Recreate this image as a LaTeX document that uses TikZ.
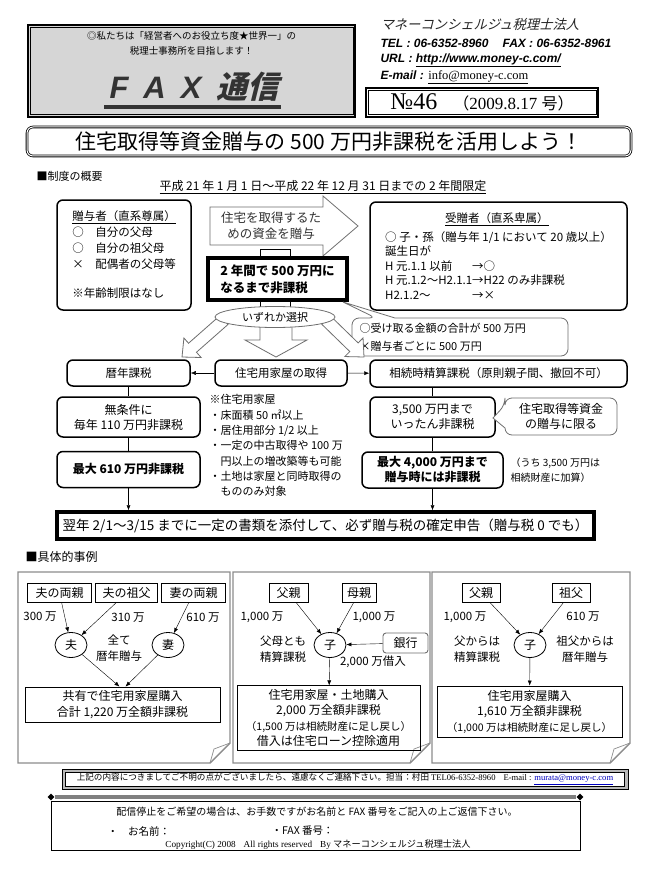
\documentclass[tikz,border=0pt]{standalone}
\usepackage{fontspec}
\setmainfont{Noto Sans CJK JP}
\newfontfamily\jp{Noto Sans CJK JP}
\newfontfamily\jpit[FakeSlant=0.25]{Noto Sans CJK JP}
\newfontfamily\lsans{Liberation Sans}
\newfontfamily\lserif{Liberation Serif}
\usetikzlibrary{arrows.meta,positioning,calc,shapes.geometric}
\definecolor{linegray}{RGB}{110,110,110}
\definecolor{panelgray}{RGB}{140,140,140}
\definecolor{hdrgray}{RGB}{214,214,214}
\definecolor{mailblue}{RGB}{0,0,190}
\newlength{\hlen}
\newcommand{\fsz}[2]{\fontsize{#1}{#2}\selectfont}
\newcommand{\blockarrow}[5]{%
  \coordinate (ba) at ($(#2)!#5!(#1)$);
  \draw[blk] ($(#1)!#3!90:(#2)$) -- ($(ba)!#3!-90:(#1)$) -- ($(ba)!#4!-90:(#1)$) -- (#2) -- ($(ba)!#4!90:(#1)$) -- ($(ba)!#3!90:(#1)$) -- ($(#1)!#3!-90:(#2)$) -- cycle;}
\newcommand{\notepanel}[4]{%
  \draw[panel] (#1,#2) -- (#3,#2) -- (#3,#4-20) -- (#3-20,#4) -- (#1,#4) -- cycle;
  \draw[panel,line width=0.7pt] (#3,#4-20) -- (#3-16,#4-14) -- (#3-20,#4);}
\newcommand{\innerframe}[1]{%
  \draw[line width=0.6pt] ([shift={(3pt,-3pt)}]#1.north west) rectangle ([shift={(-3pt,3pt)}]#1.south east);}

\begin{document}
\begin{tikzpicture}[x=1pt,y=-1pt,>={Latex[length=5pt,width=4pt]},
  every node/.style={font=\fsz{11.5}{15}},
  rbox/.style={draw,line width=1.5pt,rounded corners=6pt,align=center,inner sep=2pt},
  thickbox/.style={draw,line width=3.5pt,align=left,inner sep=2pt},
  framebox/.style={draw,line width=1.6pt,inner sep=2pt},
  namebox/.style={draw,line width=0.9pt,minimum height=19pt,inner sep=2pt,font=\fsz{12}{14}},
  resultbox/.style={draw,line width=0.9pt,align=center,font=\fsz{12}{15.5}},
  person/.style={ellipse,draw,line width=0.8pt,minimum width=32pt,minimum height=25pt,inner sep=0pt,font=\fsz{12}{14}},
  panel/.style={draw=panelgray,line width=1.4pt},
  blk/.style={draw=linegray,fill=white,line width=0.8pt},
  callout/.style={draw=linegray,fill=white,line width=0.8pt},
  amount/.style={font=\fsz{11.5}{14}},
  small/.style={font=\fsz{11.5}{15.5},align=center},
  hdrtext/.style={anchor=west,font=\lsans\bfseries\itshape\fsz{12}{14}}]
\useasboundingbox[fill=white] (0,0) rectangle (658,869);

\node[framebox,fill=hdrgray,minimum width=327pt,minimum height=92pt] (hdr) at (191.5,71) {};
\innerframe{hdr}
\node[font=\fsz{9.5}{11}] (motto) at (191.5,36) {◎私たちは「経営者へのお役立ち度★世界一」の};
\node[font=\fsz{9.5}{11}] (motto2) at (191.5,51) {税理士事務所を目指します！};
\draw[line width=3.5pt,black!80] (104,107) -- (281,107);
\node[font=\fsz{31}{33}\bfseries,text=black!80] (faxtitle) at (194,87) {{\lsans\itshape F\hspace{15pt}A\hspace{15pt}X}\hspace{15pt}{\jpit 通信}};

\node[anchor=west,font=\jpit\fsz{13.3}{15},text=black!85] (firm) at (377,24) {マネーコンシェルジュ税理士法人};
\node[hdrtext] (tel) at (377,43) {TEL : 06-6352-8960\hspace{14pt}FAX : 06-6352-8961};
\node[hdrtext] (url) at (377,60) {URL : \underline{http://www.money-c.com/}};
\node[hdrtext] (mail) at (377,77) {E-mail : {\lserif\mdseries\upshape\fsz{12.5}{14}\underline{info@money-c.com}}};
\node[framebox,fill=white,minimum width=232pt,minimum height=29pt] (issue) at (482,102.5) {{\lserif\fsz{24}{26}№46}\hspace{16pt}{\fsz{16}{20}（}{\lserif\fsz{17}{20}2009.8.17 }{\fsz{16}{20}号）}};
\innerframe{issue}

\node[draw,double,double distance=1pt,line width=0.8pt,rounded corners=6pt,minimum width=604pt,minimum height=29pt,font=\fsz{21}{24}] (title) at (329,141.5) {住宅取得等資金贈与の 500 万円非課税を活用しよう！};
\node[anchor=west,font=\fsz{11}{13}] (sec1) at (33,176) {■制度の概要};
\node[font=\fsz{12}{14}] (period) at (323,187) {\underline{平成 21 年 1 月 1 日～平成 22 年 12 月 31 日までの 2 年間限定}};

\node[rbox,align=left,minimum width=134pt,minimum height=110pt,font=\fsz{11.5}{16}] (donor) at (124,255) {\underline{贈与者（直系尊属）}\\○　自分の父母\\○　自分の祖父母\\×　配偶者の父母等\\[13pt]※年齢制限はなし};

\coordinate (giftS) at (210,226);
\coordinate (giftT) at (358,226);
\blockarrow{giftS}{giftT}{19pt}{30pt}{35pt}
\node[font=\fsz{12.5}{16},align=center,text=black!80] (giftlabel) at (271,226) {住宅を取得するた\\めの資金を贈与};
\draw[line width=0.6pt,fill=white] (260,249) rectangle (290,310);
\node[thickbox,fill=white,minimum width=139pt,minimum height=42pt,font=\fsz{12.5}{17}\bfseries] (limit) at (277.5,279) {2 年間で 500 万円に\\なるまで非課税};

\draw[callout] (376,318) -- (343,302) -- (395,318) [rounded corners=7pt] -- (568,318) -- (568,356) -- (352,356) -- (352,318) -- cycle;
\node[anchor=west,align=left,font=\fsz{11}{18}] (sumnote) at (356,337) {○受け取る金額の合計が 500 万円\\×贈与者ごとに 500 万円};

\coordinate (lS) at (224,320);
\coordinate (lT) at (182,357);
\coordinate (mS) at (276,326);
\coordinate (mT) at (276,357);
\coordinate (rS) at (326,320);
\coordinate (rT) at (364,357);
\blockarrow{lS}{lT}{6pt}{13pt}{14pt}
\blockarrow{mS}{mT}{16pt}{31pt}{17pt}
\blockarrow{rS}{rT}{6pt}{13pt}{14pt}
\node[ellipse,draw=linegray,line width=0.8pt,fill=white,minimum width=120pt,minimum height=21pt,inner sep=0pt,font=\fsz{11}{13}] (choose) at (275,317) {いずれか選択};

\node[rbox,align=left,minimum width=257pt,minimum height=108pt,font=\fsz{11.5}{14.5}] (donee) at (498.5,256) {\hspace*{60pt}\underline{受贈者（直系卑属）}\\[4pt]○ 子・孫（贈与年 1/1 において 20 歳以上）\\誕生日が\\\settowidth{\hlen}{H 元.1.2～H2.1.1}\makebox[\hlen][l]{H 元.1.1 以前}→○\\H 元.1.2～H2.1.1→H22 のみ非課税\\\settowidth{\hlen}{H 元.1.2～H2.1.1}\makebox[\hlen][l]{H2.1.2～}→×};

\node[rbox,minimum width=123pt,minimum height=26pt] (annual) at (128.5,373) {暦年課税};
\node[rbox,minimum width=132pt,minimum height=26pt] (house) at (281,373) {住宅用家屋の取得};
\node[rbox,minimum width=257pt,minimum height=27pt] (settle) at (498.5,373.5) {相続時精算課税（原則親子間、撤回不可）};
\draw[->] (house) -- (annual);
\draw[->] (house) -- (settle);

\node[rbox,minimum width=143pt,minimum height=40pt,font=\fsz{12}{15}] (yearly) at (128.5,417) {無条件に\\毎年 110 万円非課税};
\node[rbox,minimum width=143pt,minimum height=36pt,font=\fsz{12}{15}\bfseries] (max610) at (128.5,469.5) {最大 610 万円非課税};
\node[anchor=north west,align=left,font=\fsz{11}{15.3}] (housenote) at (206,391) {※住宅用家屋\\・床面積 50 ㎡以上\\・居住用部分 1/2 以上\\・一定の中古取得や 100 万\\\hspace*{1em}円以上の増改築等も可能\\・土地は家屋と同時取得の\\\hspace*{1em}もののみ対象};

\node[rbox,minimum width=125pt,minimum height=40pt,font=\fsz{12}{15}] (upto3500) at (432.5,417) {3,500 万円まで\\いったん非課税};
\draw[callout] (505,405) -- (493,418) -- (505,428) [rounded corners=7pt] -- (505,435) -- (617,435) -- (617,398) -- (505,398) -- cycle;
\node[font=\fsz{12}{15.5},align=center] (limitnote) at (561,416.5) {住宅取得等資金\\の贈与に限る};
\node[rbox,minimum width=141pt,minimum height=36pt,font=\fsz{12}{15}\bfseries] (max4000) at (432.5,470) {最大 4,000 万円まで\\贈与時には非課税};
\node[anchor=west,align=left,font=\fsz{10}{15}] (addnote) at (507,470.5) {（うち 3,500 万円は\\相続財産に加算）};

\node[thickbox,align=center,minimum width=537pt,minimum height=27pt,font=\fsz{13.5}{15}] (report) at (325.5,525.5) {翌年 2/1～3/15 までに一定の書類を添付して、必ず贈与税の確定申告（贈与税 0 でも）};
\draw (annual) -- (yearly);
\draw (yearly) -- (max610);
\draw[->] (max610.south) -- (max610.south |- report.north);
\draw (upto3500.north) -- (upto3500.north |- settle.south);
\draw (upto3500) -- (max4000);
\draw[->] (max4000.south) -- (max4000.south |- report.north);

\node[anchor=west,font=\fsz{12}{14}] (sec2) at (22,557) {■具体的事例};
\notepanel{18}{572}{230}{763}
\notepanel{233}{572}{430}{763}
\notepanel{432}{572}{630}{763}

\node[namebox,minimum width=64pt] (hparents) at (59.5,593) {夫の両親};
\node[namebox,minimum width=62pt] (hgrand) at (126.5,593) {夫の祖父};
\node[namebox,minimum width=64pt] (wparents) at (193.5,593) {妻の両親};
\node[person] (husband) at (71,645) {夫};
\node[person] (wife) at (168,645) {妻};
\node[small] (allannual) at (119,648) {全て\\暦年贈与};
\node[amount] (amt1) at (40,617) {300 万};
\node[amount] (amt2) at (128,618) {310 万};
\node[amount] (amt3) at (203,618) {610 万};
\draw[->] (hparents) -- (husband);
\draw[->] (hgrand) -- (husband);
\draw[->] (wparents) -- (wife);
\node[resultbox,minimum width=195pt,minimum height=35pt] (joint) at (122.5,704.5) {共有で住宅用家屋購入\\合計 1,220 万全額非課税};
\draw[->] (husband) -- ([xshift=-3pt]joint.north);
\draw[->] (wife) -- ([xshift=3pt]joint.north);

\node[namebox,minimum width=39pt] (father2) at (288.5,593) {父親};
\node[namebox,minimum width=34pt] (mother2) at (359,593) {母親};
\node[person] (child2) at (330,645) {子};
\node[draw=linegray,line width=0.9pt,rounded corners=3pt,minimum width=45pt,minimum height=20pt,font=\fsz{12}{14}] (bank) at (405.5,643) {銀行};
\node[amount] (amt4) at (262,617) {1,000 万};
\node[amount] (amt5) at (374,617) {1,000 万};
\node[small] (bothsettle) at (283,649) {父母とも\\精算課税};
\node[amount] (loan) at (373,662) {2,000 万借入};
\draw[->] (father2) -- (child2);
\draw[->] (mother2) -- (child2);
\draw[->] (bank) -- (child2);
\node[resultbox,minimum width=183pt,minimum height=64pt] (land) at (328.5,718) {住宅用家屋・土地購入\\2,000 万全額非課税\\{\fsz{10.5}{15.5}（1,500 万は相続財産に足し戻し）}\\借入は住宅ローン控除適用};
\draw[->] (child2) -- (land);

\node[namebox,minimum width=38pt] (father3) at (481,593) {父親};
\node[namebox,minimum width=38pt] (grandpa3) at (571,593) {祖父};
\node[person] (child3) at (530,645) {子};
\node[amount] (amt6) at (465,617) {1,000 万};
\node[amount] (amt7) at (583,617) {610 万};
\node[small] (fromfather) at (477,649) {父からは\\精算課税};
\node[small] (fromgrand) at (585,649) {祖父からは\\暦年贈与};
\draw[->] (father3) -- (child3);
\draw[->] (grandpa3) -- (child3);
\node[resultbox,minimum width=185pt,minimum height=51pt] (buy3) at (529.5,711.5) {住宅用家屋購入\\1,610 万全額非課税\\{\fsz{10.5}{15.5}（1,000 万は相続財産に足し戻し）}};
\draw[->] (child3) -- (buy3);

\node[draw,line width=0.7pt,fill=gray!55,minimum width=566pt,minimum height=20pt] (contactframe) at (345,779) {};
\node[draw,line width=0.5pt,fill=white,minimum width=559pt,minimum height=14pt,inner sep=0pt,font=\fsz{8.6}{10}] (contact) at (345,779) {上記の内容につきましてご不明の点がございましたら、遠慮なくご連絡下さい。担当：村田 {\lserif TEL06-6352-8960\hspace{8pt}E-mail : \textcolor{mailblue}{\underline{murata@money-c.com}}}};
\node[diamond,fill=black,inner sep=0pt,minimum size=7pt] (dl) at (51,797) {};
\node[diamond,fill=black,inner sep=0pt,minimum size=7pt] (dr) at (580,797) {};
\draw[line width=3.5pt,gray] (dl) -- (dr);
\node[draw,line width=0.9pt,minimum width=529pt,minimum height=49pt] (stopbox) at (315.5,826) {};
\node[font=\fsz{10}{12}] (stopnote) at (317,812) {配信停止をご希望の場合は、お手数ですがお名前と FAX 番号をご記入の上ご返信下さい。};
\node[anchor=west,font=\fsz{10.5}{12}] (namefield) at (104,831) {・\hspace{10pt}お名前：};
\node[anchor=west,font=\fsz{10.5}{12}] (faxfield) at (268,831) {・FAX 番号：};
\node[font=\lserif\fsz{9.2}{10}] (copy) at (318,845) {Copyright(C) 2008\hspace{8pt}All rights reserved\hspace{8pt}By {\jp マネーコンシェルジュ税理士法人}};
\end{tikzpicture}
\end{document}
